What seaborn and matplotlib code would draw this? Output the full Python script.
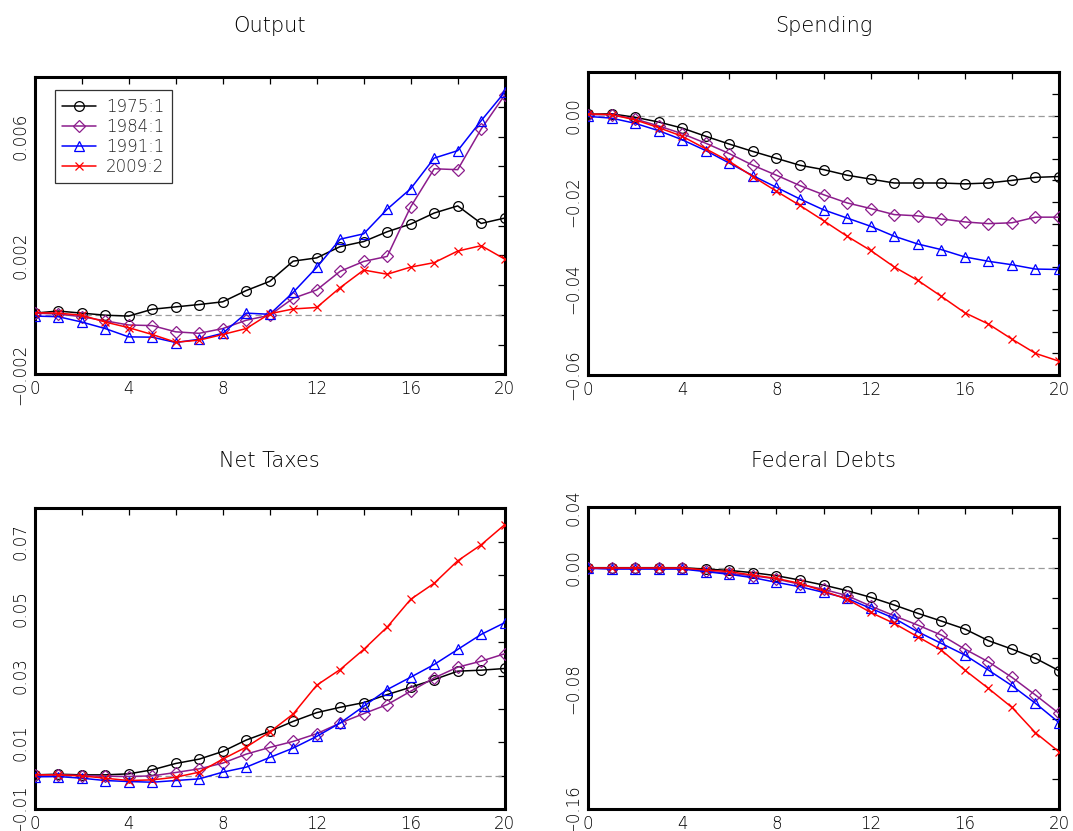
import numpy as np
import pandas as pd
import matplotlib
matplotlib.use("Agg")
import matplotlib.pyplot as plt
from matplotlib.ticker import FixedLocator, FixedFormatter, MultipleLocator
from matplotlib.legend_handler import HandlerLine2D
import seaborn as sns

# ---------------------------------------------------------------- data
quarters = list(range(21))
vintages = ["1975:1", "1984:1", "1991:1", "2009:2"]

output_1975 = [0.00006, 0.00013, 0.00006, -0.00001, -0.00004, 0.00019, 0.00027, 0.00035, 0.00044, 0.00082,
               0.00113, 0.00181, 0.00192, 0.00230, 0.00247, 0.00280, 0.00306, 0.00343, 0.00367, 0.00308, 0.00326]
output_1984 = [0.00006, 0.00003, -0.00006, -0.00020, -0.00034, -0.00036, -0.00057, -0.00062, -0.00046, -0.00018,
               -0.00001, 0.00056, 0.00084, 0.00147, 0.00180, 0.00197, 0.00364, 0.00492, 0.00489, 0.00626, 0.00740]
output_1991 = [-0.00004, -0.00006, -0.00024, -0.00046, -0.00074, -0.00075, -0.00093, -0.00082, -0.00062, 0.00006,
               0.00002, 0.00076, 0.00160, 0.00255, 0.00273, 0.00356, 0.00425, 0.00528, 0.00553, 0.00654, 0.00750]
output_2009 = [0.00007, 0.00006, -0.00001, -0.00024, -0.00043, -0.00066, -0.00092, -0.00085, -0.00066, -0.00046,
               0.00004, 0.00020, 0.00025, 0.00092, 0.00151, 0.00137, 0.00161, 0.00176, 0.00215, 0.00233, 0.00188]

spending_1975 = [0.0003, 0.0004, -0.0004, -0.0015, -0.0029, -0.0048, -0.0066, -0.0083, -0.0099, -0.0115,
                 -0.0125, -0.0138, -0.0147, -0.0156, -0.0156, -0.0156, -0.0158, -0.0156, -0.0150, -0.0143, -0.0141]
spending_1984 = [0.0002, 0.0002, -0.0008, -0.0024, -0.0042, -0.0064, -0.0088, -0.0115, -0.0138, -0.0162,
                 -0.0183, -0.0202, -0.0215, -0.0229, -0.0232, -0.0239, -0.0246, -0.0250, -0.0248, -0.0235, -0.0235]
spending_1991 = [-0.0002, -0.0006, -0.0018, -0.0035, -0.0056, -0.0081, -0.0110, -0.0139, -0.0166, -0.0193,
                 -0.0218, -0.0237, -0.0256, -0.0279, -0.0297, -0.0310, -0.0327, -0.0337, -0.0345, -0.0355, -0.0356]
spending_2009 = [0.0004, 0.0002, -0.0010, -0.0028, -0.0048, -0.0077, -0.0106, -0.0141, -0.0175, -0.0208,
                 -0.0243, -0.0279, -0.0312, -0.0350, -0.0381, -0.0418, -0.0456, -0.0482, -0.0517, -0.0550, -0.0568]

taxes_1975 = [0.0003, 0.0005, 0.0003, 0.0003, 0.0006, 0.0018, 0.0037, 0.0050, 0.0073, 0.0107,
              0.0133, 0.0163, 0.0189, 0.0205, 0.0219, 0.0243, 0.0265, 0.0288, 0.0313, 0.0316, 0.0321]
taxes_1984 = [0.0003, 0.0003, 0.0001, -0.0001, -0.0002, 0.0000, 0.0010, 0.0021, 0.0038, 0.0065,
              0.0085, 0.0103, 0.0126, 0.0158, 0.0186, 0.0213, 0.0253, 0.0293, 0.0325, 0.0343, 0.0365]
taxes_1991 = [-0.0003, -0.0002, -0.0007, -0.0014, -0.0017, -0.0019, -0.0014, -0.0009, 0.0011, 0.0026,
              0.0055, 0.0083, 0.0118, 0.0158, 0.0208, 0.0258, 0.0295, 0.0333, 0.0378, 0.0423, 0.0458]
taxes_2009 = [0.0003, 0.0003, 0.0000, -0.0007, -0.0014, -0.0012, -0.0004, 0.0011, 0.0050, 0.0086,
              0.0131, 0.0185, 0.0271, 0.0318, 0.0378, 0.0445, 0.0528, 0.0576, 0.0643, 0.0691, 0.0751]

debt_1975 = [0.0000, 0.0000, 0.0000, 0.0000, 0.0000, -0.0009, -0.0018, -0.0033, -0.0053, -0.0082,
             -0.0115, -0.0152, -0.0196, -0.0247, -0.0302, -0.0353, -0.0406, -0.0483, -0.0539, -0.0600, -0.0682]
debt_1984 = [-0.0004, -0.0004, -0.0004, -0.0004, -0.0004, -0.0022, -0.0038, -0.0053, -0.0075, -0.0110,
             -0.0143, -0.0185, -0.0254, -0.0318, -0.0380, -0.0446, -0.0539, -0.0623, -0.0726, -0.0843, -0.0965]
debt_1991 = [-0.0004, -0.0009, -0.0009, -0.0009, -0.0009, -0.0026, -0.0044, -0.0066, -0.0097, -0.0126,
             -0.0163, -0.0203, -0.0269, -0.0335, -0.0424, -0.0501, -0.0578, -0.0678, -0.0781, -0.0898, -0.1026]
debt_2009 = [-0.0002, -0.0002, -0.0002, -0.0002, -0.0002, -0.0015, -0.0026, -0.0049, -0.0071, -0.0104,
             -0.0155, -0.0208, -0.0296, -0.0369, -0.0457, -0.0545, -0.0678, -0.0799, -0.0925, -0.1093, -0.1219]

titles = ["Output", "Spending", "Net Taxes", "Federal Debts"]

x_tick_values = [0, 4, 8, 12, 16, 20]
x_tick_labels = ["0", "4", "8", "12", "16", "20"]

output_ticks = [-0.002, 0.002, 0.006]
output_tick_labels = ["\u22120.002", "0.002", "0.006"]
spending_ticks = [0.00, -0.02, -0.04, -0.06]
spending_tick_labels = ["0.00", "\u22120.02", "\u22120.04", "\u22120.06"]
taxes_ticks = [-0.01, 0.01, 0.03, 0.05, 0.07]
taxes_tick_labels = ["\u22120.01", "0.01", "0.03", "0.05", "0.07"]
debt_ticks = [0.04, 0.00, -0.08, -0.16]
debt_tick_labels = ["0.04", "0.00", "\u22120.08", "\u22120.16"]

# ---------------------------------------------------------------- style
sns.set_style("white")
plt.rcParams["font.family"] = ["DejaVu Sans"]
plt.rcParams["font.weight"] = "light"
plt.rcParams["axes.titleweight"] = "light"
plt.rcParams["axes.unicode_minus"] = True

colors = {"1975:1": "#000000", "1984:1": "#8c1c8c", "1991:1": "#0000ff", "2009:2": "#ff0000"}
markers = {"1975:1": "o", "1984:1": "D", "1991:1": "^", "2009:2": "x"}
msizes = {"1975:1": 7.0, "1984:1": 6.3, "1991:1": 7.3, "2009:2": 5.5}

panels = [
    dict(series=[output_1975, output_1984, output_1991, output_2009],
         ylim=(-0.002, 0.008), ticks=output_ticks, labels=output_tick_labels, minor=0.001,
         rect_px=(34.7, 77.3, 504.7, 374.3), title_base=32.0),
    dict(series=[spending_1975, spending_1984, spending_1991, spending_2009],
         ylim=(-0.06, 0.01), ticks=spending_ticks, labels=spending_tick_labels, minor=0.005,
         rect_px=(588.0, 72.3, 1059.0, 375.0), title_base=32.0),
    dict(series=[taxes_1975, taxes_1984, taxes_1991, taxes_2009],
         ylim=(-0.01, 0.08), ticks=taxes_ticks, labels=taxes_tick_labels, minor=0.01,
         rect_px=(34.7, 508.3, 504.7, 809.3), title_base=467.0),
    dict(series=[debt_1975, debt_1984, debt_1991, debt_2009],
         ylim=(-0.16, 0.04), ticks=debt_ticks, labels=debt_tick_labels, minor=0.02,
         rect_px=(588.0, 507.3, 1059.0, 809.3), title_base=467.0),
]

W, H = 1073, 831
fig = plt.figure(figsize=(W / 100, H / 100), dpi=100)


class LeadMarkerHandler(HandlerLine2D):
    """Legend handle with the marker sitting near the start of the line."""

    def get_xdata(self, legend, xdescent, ydescent, width, height, fontsize):
        xdata = np.array([-xdescent, -xdescent + width])
        return xdata, np.array([-xdescent + 0.15 * width])


for idx, (title, p) in enumerate(zip(titles, panels)):
    l, t, r, b = p["rect_px"]
    ax = fig.add_axes([l / W, 1 - b / H, (r - l) / W, (b - t) / H])

    ax.axhline(0, color="#9a9a9a", lw=0.9, ls=(0, (5, 3)), zorder=1)

    df = pd.DataFrame({"quarter": quarters * len(vintages),
                       "value": np.concatenate(p["series"]),
                       "vintage": np.repeat(vintages, len(quarters))})
    for v in vintages:
        sub = df[df["vintage"] == v]
        sns.lineplot(data=sub, x="quarter", y="value", ax=ax, color=colors[v],
                     marker=markers[v], markersize=msizes[v], mfc="none", mec=colors[v],
                     mew=0.9, lw=1.1, label=v, legend=False, zorder=3)

    ax.set_xlim(0, 20)
    ax.set_ylim(*p["ylim"])
    ax.xaxis.set_major_locator(FixedLocator(x_tick_values))
    ax.xaxis.set_major_formatter(FixedFormatter(x_tick_labels))
    ax.xaxis.set_minor_locator(MultipleLocator(2))
    ax.yaxis.set_major_locator(FixedLocator(p["ticks"]))
    ax.yaxis.set_major_formatter(FixedFormatter(p["labels"]))
    ax.yaxis.set_minor_locator(MultipleLocator(p["minor"]))

    ax.tick_params(which="both", direction="in", top=True, right=True,
                   length=5, width=0.9, color="black", labelsize=12, labelcolor="black")
    ax.tick_params(axis="x", which="major", pad=4)
    ax.tick_params(axis="y", which="major", pad=4)
    for lab in ax.get_yticklabels():
        lab.set_rotation(90)
        lab.set_va("center")

    for s in ax.spines.values():
        s.set_visible(True)
        s.set_linewidth(2.2)
        s.set_color("black")

    ax.set_xlabel("")
    ax.set_ylabel("")
    ax.set_title(title, fontsize=15, color="black", fontweight="light",
                 pad=(t - p["title_base"]) * 0.72)

    if idx == 0:
        handles = ax.get_lines()[1:]
        leg = ax.legend(handles, vintages, loc="upper left",
                        bbox_to_anchor=(0.043, 0.957), borderaxespad=0,
                        fontsize=12, handlelength=2.0, handletextpad=0.6,
                        labelspacing=0.12, borderpad=0.45, fancybox=False,
                        frameon=True, handler_map={h: LeadMarkerHandler() for h in handles})
        leg.get_frame().set_edgecolor("black")
        leg.get_frame().set_linewidth(0.9)

fig.savefig("out.png", dpi=100)
